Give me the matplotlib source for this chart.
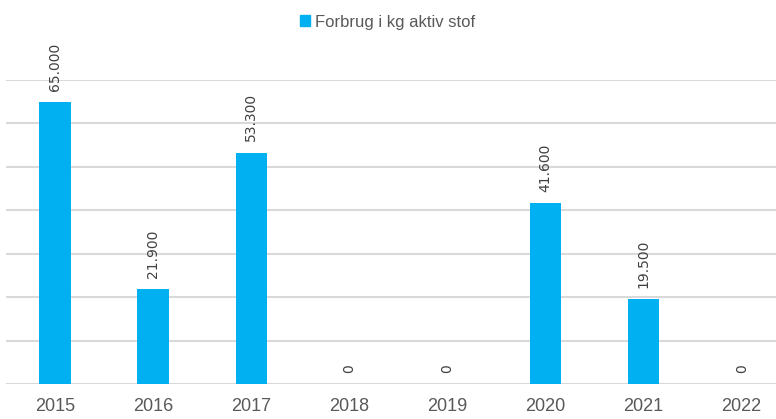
import numpy as np
import matplotlib.pyplot as plt
from matplotlib.patches import Patch

# ── Data ──────────────────────────────────────────────────────────────────────
years  = ['2015', '2016', '2017', '2018', '2019', '2020', '2021', '2022']
values = [65000, 21900, 53300, 0, 0, 41600, 19500, 0]
series_name = 'Forbrug i kg aktiv stof'

BAR_COLOR  = '#00B0F0'
GRID_COLOR = '#D9D9D9'
TEXT_COLOR = '#595959'


def fmt_dk(v):
    return f"{v:,.0f}".replace(',', '.')


fig = plt.figure(figsize=(7.76, 4.19), dpi=100)
ax = fig.add_axes([6 / 776, 35 / 419, 770 / 776, 304 / 419])

x = np.arange(len(years))
ax.bar(x, values, width=0.32, color=BAR_COLOR, zorder=3)

for xi, v in zip(x, values):
    ax.annotate(fmt_dk(v), (xi, v), xytext=(0, 8), textcoords='offset points',
                rotation=90, ha='center', va='bottom', fontsize=10,
                family='DejaVu Sans', color='#404040')

ax.set_xlim(-0.5, 7.35)
ax.set_ylim(0, 70000)
ax.set_yticks(np.arange(0, 70001, 10000))
ax.yaxis.grid(True, color=GRID_COLOR, linewidth=1.5)
ax.set_axisbelow(True)
ax.tick_params(axis='y', left=False, labelleft=False)
ax.tick_params(axis='x', length=0, pad=10, labelsize=13, labelcolor=TEXT_COLOR)
ax.set_xticks(x)
ax.set_xticklabels(years, family='Liberation Sans')
for s in ax.spines.values():
    s.set_visible(False)

fig.legend(handles=[Patch(color=BAR_COLOR)], labels=[series_name],
           loc='center', bbox_to_anchor=(0.5, 1 - 22 / 419), frameon=False,
           handlelength=0.6, handleheight=0.6, handletextpad=0.3,
           prop={'family': 'Liberation Sans', 'size': 12}, labelcolor=TEXT_COLOR)

fig.savefig('out.png', dpi=100)
